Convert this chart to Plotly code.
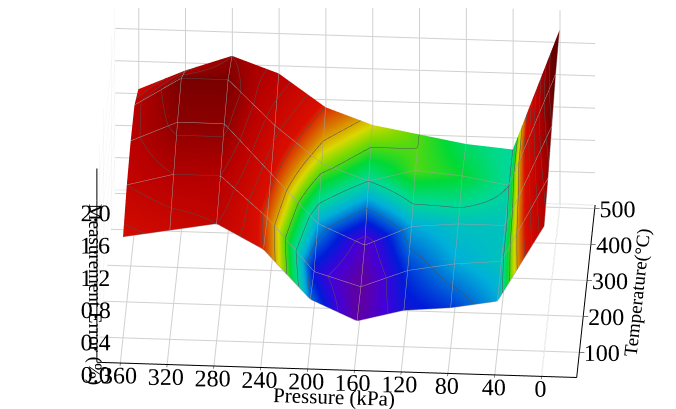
import plotly.graph_objects as go

# grid of the measurement surface
pressure = [0, 40, 80, 120, 160, 200, 240, 280, 320, 360]          # kPa
temperature = [100, 200, 300, 400, 500]                               # degC

# measurement error (%) - one row per temperature, one value per pressure
err_100 = [1.55, 0.60, 0.50, 0.45, 0.30, 0.55, 1.15, 1.45, 1.35, 1.25]
err_200 = [1.70, 0.65, 0.60, 0.50, 0.28, 0.45, 1.10, 1.60, 1.60, 1.45]
err_300 = [1.90, 0.65, 0.65, 0.60, 0.35, 0.60, 1.20, 1.80, 1.80, 1.55]
err_400 = [2.10, 0.70, 0.80, 0.85, 0.70, 0.90, 1.35, 1.90, 1.90, 1.55]
err_500 = [2.20, 0.70, 0.75, 0.85, 0.95, 1.15, 1.55, 1.75, 1.55, 1.30]

z_ticks = [0.0, 0.4, 0.8, 1.2, 1.6, 2.0]
p_ticks = [0, 40, 80, 120, 160, 200, 240, 280, 320, 360]
t_ticks = [100, 200, 300, 400, 500]

rainbow = [
    [0.00, '#7000c0'], [0.05, '#5000ff'], [0.10, '#0020ff'],
    [0.18, '#00d0ff'], [0.24, '#00ffb0'], [0.29, '#00ff40'],
    [0.34, '#90ff00'], [0.38, '#ffff00'], [0.44, '#ff9000'],
    [0.52, '#ff1000'], [0.75, '#d80000'], [1.00, '#780000'],
]

serif = 'Liberation Serif'

fig = go.Figure()

fig.add_trace(go.Surface(
    x=pressure,
    y=temperature,
    z=[err_100, err_200, err_300, err_400, err_500],
    colorscale=rainbow,
    cmin=0.3,
    cmax=2.0,
    showscale=False,
    lighting=dict(ambient=0.85, diffuse=0.3, specular=0.05, roughness=0.9),
    contours=dict(
        z=dict(show=True, start=0.4, end=2.0, size=0.15, color='#505050', width=1),
        x=dict(show=True, start=0, end=360, size=40, color='#a0a0a0', width=1),
        y=dict(show=True, start=100, end=500, size=100, color='#a0a0a0', width=1),
    ),
    hoverinfo='skip',
))

axis_common = dict(
    showbackground=False,
    gridcolor='#d0d0d0',
    showline=True,
    linecolor='black',
    linewidth=2,
    ticks='outside',
    tickcolor='black',
    tickfont=dict(family=serif, size=17, color='black'),
    tickangle=0,
    showspikes=False,
)

fig.update_layout(
    width=676,
    height=409,
    margin=dict(l=0, r=0, t=0, b=0),
    paper_bgcolor='white',
    font=dict(family=serif, color='black'),
    scene=dict(
        domain=dict(x=[0, 1], y=[0, 1]),
        xaxis=dict(axis_common, title=dict(text='Pressure (kPa)', font=dict(size=21)),
                   range=[380, -30], tickvals=p_ticks),
        yaxis=dict(axis_common, title=dict(text='Temperature(°C)', font=dict(size=19)),
                   range=[30, 510], tickvals=t_ticks),
        zaxis=dict(axis_common, title=dict(text='Measurement Error (%)', font=dict(size=19)),
                   range=[0, 2.4], tickvals=z_ticks, tickformat='.1f'),
        aspectmode='manual',
        aspectratio=dict(x=2.35, y=1.55, z=1.13),
        camera=dict(eye=dict(x=0.125, y=-2.15, z=1.25), center=dict(x=0, y=0, z=-0.15),
                    projection=dict(type='orthographic')),
    ),
)

fig.write_html('out.html')
